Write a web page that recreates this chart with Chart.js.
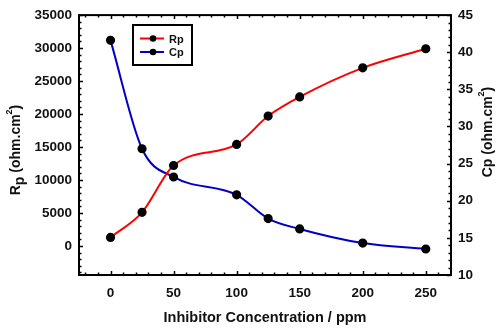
<!DOCTYPE html>
<html>
<head>
<meta charset="utf-8">
<script src="https://cdn.jsdelivr.net/npm/chart.js@4.4.0/dist/chart.umd.min.js"></script>
<style>
  html, body { margin: 0; padding: 0; background: #fff; }
  #wrap { width: 500px; height: 331px; position: relative; }
</style>
</head>
<body>
<div id="wrap"><canvas id="chart"></canvas></div>
<script>
'use strict';

// data
var concentration = [0, 25, 50, 100, 125, 150, 200, 250];
var rpValues = [1300, 5100, 12200, 15400, 19700, 22600, 27000, 29900];
var cpValues = [41.6, 27.0, 23.2, 20.8, 17.6, 16.2, 14.3, 13.5];

// tick labels
var xTicks = [0, 50, 100, 150, 200, 250];
var rpTicks = [0, 5000, 10000, 15000, 20000, 25000, 30000, 35000];
var cpTicks = [10, 15, 20, 25, 30, 35, 40, 45];

var seriesNames = ['Rp', 'Cp'];
var seriesColors = ['#ff0000', '#0000c8'];

var FONT = "'Liberation Sans', Arial, sans-serif";
Chart.defaults.font.family = FONT;
Chart.defaults.color = '#111';

function toPoints(xs, ys) {
    var pts = [];
    for (var i = 0; i < xs.length; i++) {
        pts.push({x: xs[i], y: ys[i]});
    }
    return pts;
}

function setTicks(list) {
    return function(scale) {
        scale.ticks = list.map(function(v) { return {value: v}; });
    };
}

function plainLabel(value) {
    return String(value);
}

/**
 * Frame, inward ticks (major + minor), axis titles and the boxed legend.
 */
var decorPlugin = {
    id: 'decor',
    afterDraw: function(chart) {
        var ctx = chart.ctx;
        var a = chart.chartArea;
        var sx = chart.scales.x, sl = chart.scales.yRp, sr = chart.scales.yCp;
        var v, p, len;

        ctx.save();
        ctx.strokeStyle = '#000';

        // ticks
        ctx.lineWidth = 1.5;
        ctx.beginPath();
        for (v = -20; v <= 260; v += 10) {
            p = Math.round(sx.getPixelForValue(v)) + 0.5;
            len = (v % 50 === 0) ? 4 : 2.5;
            ctx.moveTo(p, a.bottom); ctx.lineTo(p, a.bottom - len);
            ctx.moveTo(p, a.top); ctx.lineTo(p, a.top + len);
        }
        for (v = -4000; v <= 35000; v += 1000) {
            p = Math.round(sl.getPixelForValue(v)) + 0.5;
            len = (v % 5000 === 0) ? 4 : 2.5;
            ctx.moveTo(a.left, p); ctx.lineTo(a.left + len, p);
        }
        for (v = 10; v <= 45; v += 1) {
            p = Math.round(sr.getPixelForValue(v)) + 0.5;
            len = (v % 5 === 0) ? 4 : 2.5;
            ctx.moveTo(a.right, p); ctx.lineTo(a.right - len, p);
        }
        ctx.stroke();

        // frame
        ctx.lineWidth = 2;
        ctx.strokeRect(a.left, a.top, a.right - a.left, a.bottom - a.top);

        // titles
        ctx.fillStyle = '#111';
        ctx.textBaseline = 'middle';
        ctx.textAlign = 'center';
        ctx.font = 'bold 14.5px ' + FONT;
        ctx.fillText('Inhibitor Concentration / ppm', (a.left + a.right) / 2, 318);

        drawUnitTitle(ctx, [{t: 'R', sub: false}, {t: 'p', sub: true}], 16, 150);
        drawUnitTitle(ctx, [{t: 'Cp', sub: false}], 488, 132);

        // legend
        ctx.lineWidth = 2;
        ctx.strokeStyle = '#000';
        ctx.strokeRect(133, 25, 59, 40);
        for (var i = 0; i < seriesNames.length; i++) {
            var y = 38.5 + i * 13.5;
            ctx.strokeStyle = seriesColors[i];
            ctx.lineWidth = 2;
            ctx.beginPath();
            ctx.moveTo(140, y); ctx.lineTo(164, y);
            ctx.stroke();
            ctx.fillStyle = '#000';
            ctx.beginPath();
            ctx.arc(153, y, 3.3, 0, Math.PI * 2);
            ctx.fill();
            ctx.fillStyle = '#111';
            ctx.textAlign = 'left';
            ctx.font = 'bold 11px ' + FONT;
            ctx.fillText(seriesNames[i], 169, y + 1);
        }
        ctx.restore();
    }
};

// rotated "<symbol> (ohm.cm2)" with superscript 2
function drawUnitTitle(ctx, symbol, cx, cy) {
    var big = 'bold 14px ' + FONT, small = 'bold 9px ' + FONT;
    var parts = [];
    var i;
    for (i = 0; i < symbol.length; i++) {
        parts.push({t: symbol[i].t, f: big, dy: symbol[i].sub ? 4 : 0});
    }
    parts.push({t: ' (ohm.cm', f: big, dy: 0});
    parts.push({t: '2', f: small, dy: -6});
    parts.push({t: ')', f: big, dy: 0});

    var total = 0;
    for (i = 0; i < parts.length; i++) {
        ctx.font = parts[i].f;
        parts[i].w = ctx.measureText(parts[i].t).width;
        total += parts[i].w;
    }
    ctx.save();
    ctx.translate(cx, cy);
    ctx.rotate(-Math.PI / 2);
    ctx.textAlign = 'left';
    ctx.textBaseline = 'middle';
    var x = -total / 2;
    for (i = 0; i < parts.length; i++) {
        ctx.font = parts[i].f;
        ctx.fillText(parts[i].t, x, parts[i].dy);
        x += parts[i].w;
    }
    ctx.restore();
}

var tickFont = {size: 13.5, weight: 'bold'};

var config = {
    type: 'line',
    data: {
        datasets: [
            {
                label: seriesNames[0],
                data: toPoints(concentration, rpValues),
                yAxisID: 'yRp',
                borderColor: seriesColors[0],
                borderWidth: 2,
                pointBackgroundColor: '#000',
                pointBorderColor: '#000',
                pointRadius: 3.6,
                cubicInterpolationMode: 'monotone'
            },
            {
                label: seriesNames[1],
                data: toPoints(concentration, cpValues),
                yAxisID: 'yCp',
                borderColor: seriesColors[1],
                borderWidth: 2,
                pointBackgroundColor: '#000',
                pointBorderColor: '#000',
                pointRadius: 3.6,
                cubicInterpolationMode: 'monotone'
            }
        ]
    },
    options: {
        responsive: true,
        maintainAspectRatio: false,
        animation: false,
        layout: {padding: {top: 10, left: 0, right: 0, bottom: 0}},
        plugins: {legend: {display: false}, tooltip: {enabled: false}},
        scales: {
            x: {
                type: 'linear',
                min: -25,
                max: 270,
                grid: {display: false, drawTicks: false},
                border: {display: false},
                ticks: {font: tickFont, padding: 10, color: '#111', callback: plainLabel},
                afterBuildTicks: setTicks(xTicks),
                afterFit: function(s) { s.height = 56; }
            },
            yRp: {
                type: 'linear',
                position: 'left',
                min: -4400,
                max: 35000,
                grid: {display: false, drawTicks: false},
                border: {display: false},
                ticks: {font: tickFont, padding: 7, color: '#111', callback: plainLabel},
                afterBuildTicks: setTicks(rpTicks),
                afterFit: function(s) { s.width = 79; }
            },
            yCp: {
                type: 'linear',
                position: 'right',
                min: 10,
                max: 45,
                grid: {display: false, drawTicks: false},
                border: {display: false},
                ticks: {font: tickFont, padding: 7, color: '#111', callback: plainLabel},
                afterBuildTicks: setTicks(cpTicks),
                afterFit: function(s) { s.width = 49; }
            }
        }
    },
    plugins: [decorPlugin]
};

var chart = new Chart(document.getElementById('chart').getContext('2d'), config);
</script>
</body>
</html>
